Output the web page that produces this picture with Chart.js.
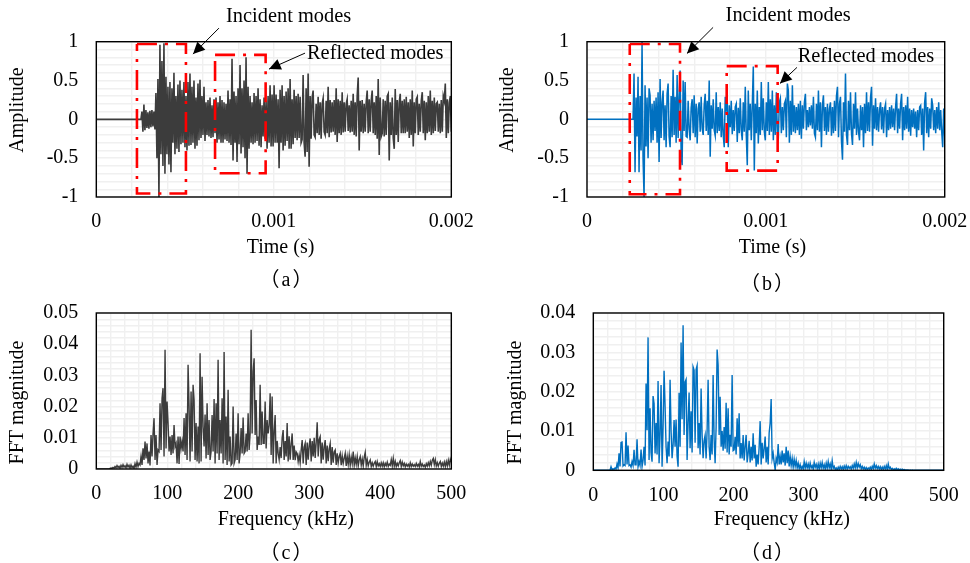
<!DOCTYPE html>
<html>
<head>
<meta charset="utf-8">
<script src="https://cdn.jsdelivr.net/npm/chart.js@4"></script>
<style>
  html, body { margin: 0; padding: 0; background: #fff; }
  body { position: relative; width: 970px; height: 563px; overflow: hidden; }
  canvas { position: absolute; }
  .legenda {
    position: absolute; width: 80px; text-align: center; color: #000; letter-spacing: 2px;
    font: 20px/24px 'Liberation Serif', 'Noto Sans CJK SC', serif;
  }
</style>
</head>
<body>
<canvas id="painelA" width="500" height="270" style="left:0;top:0"></canvas>
<canvas id="painelB" width="500" height="270" style="left:485px;top:0"></canvas>
<canvas id="painelC" width="500" height="293" style="left:0;top:270px"></canvas>
<canvas id="painelD" width="500" height="293" style="left:485px;top:270px"></canvas>
<div class="legenda" lang="zh-CN" style="left:247px;top:267px">（a）</div>
<div class="legenda" lang="zh-CN" style="left:728px;top:271px">（b）</div>
<div class="legenda" lang="zh-CN" style="left:247px;top:540px">（c）</div>
<div class="legenda" lang="zh-CN" style="left:728px;top:540px">（d）</div>
<script>
// rótulos dos eixos
const rotulosTempo = [0, 0.001, 0.002]
const rotulosAmplitude = [-1, -0.5, 0, 0.5, 1]
const rotulosFrequencia = [0, 100, 200, 300, 400, 500]
const rotulosFftC = [0, 0.01, 0.02, 0.03, 0.04, 0.05]
const rotulosFftD = [0, 0.01, 0.02, 0.03, 0.04]

// sinal (a): começa em 0.000257 s, amostras igualmente espaçadas
const amplitudeA = [
  .10,-.16,.19,-.14,.12,-.11,.09,-.12,.11,-.10,.12,-.09,.10,-.13,.34,-.50,
  .52,-1,.96,-.45,.75,-.60,.98,-.70,.55,-.45,.42,-.58,.48,-.68,.40,-.30,
  .60,-.45,.30,-.38,.45,-.42,.50,-.32,.38,-.30,.48,-.36,.30,-.40,.48,-.34,
  .59,-.33,.42,-.30,.50,-.38,.28,-.34,.46,-.27,.51,-.24,.30,-.20,.42,-.28,
  .22,-.20,.25,-.22,.28,-.24,.18,-.23,.26,-.18,.28,-.30,.22,-.26,.30,-.30,
  .25,-.30,.22,-.26,.20,-.28,.37,-.30,.26,-.33,.78,-.53,.36,-.30,.30,-.55,
  .40,-.32,.70,-.44,.40,-.36,.50,-.50,.80,-.70,.42,-.38,.30,-.30,.22,-.32,
  .34,-.30,.30,-.28,.40,-.34,.26,-.36,.18,-.22,.28,-.25,.24,-.38,.30,-.30,
  .44,-.35,.32,-.35,.44,-.30,.32,-.30,.26,-.63,.38,-.30,.44,-.40,.30,-.34,
  .36,-.28,.40,-.38,.52,-.38,.26,-.32,.38,-.24,.30,-.27,.33,-.24,.29,-.30,
  -.26,.57,-.30,-.48,.40,-.42,.59,-.61,.30,-.25,.28,.37,-.20,-.23,.20,-.18,
  .29,-.20,.22,-.25,.20,.27,-.16,-.20,.24,-.18,.42,-.23,.25,-.17,.22,-.16,
  .25,-.20,.40,-.29,.26,-.18,.24,-.20,.35,-.17,.22,-.16,.20,.26,-.15,.18,
  -.17,.24,-.16,.33,-.20,.22,-.22,.30,.54,-.40,.24,-.16,.25,-.18,.20,-.16,
  .22,.37,-.18,.26,-.16,.24,.37,-.18,.22,-.20,.30,-.25,.52,-.46,.28,-.22,
  -.18,.26,-.22,.24,-.20,.30,.33,-.53,.22,-.20,.28,-.24,-.38,.39,-.20,.25,
  -.29,.22,.33,-.18,.24,-.18,.26,-.18,.29,-.16,.22,-.24,.26,-.20,.37,-.35,
  .22,-.18,.26,.29,-.20,.20,-.16,.24,.35,-.18,.24,-.27,.22,-.18,.30,-.16,
  .37,-.20,.24,-.18,.28,-.15,.20,.22,-.16,.20,-.18,.25,-.16,.30,.24,.46,
  -.24,.26,-.18,.22,.30,-.16
]

// sinal (b): começa em 0.000263 s
const amplitudeB = [
  .59,-.68,.28,-.22,.55,-.68,.30,-.40,1,-.50,-1,.44,-.35,.28,-.50,.40,
  .31,-.30,.20,-.27,.24,-.15,.28,-.30,.35,-.55,.52,-.24,.22,.37,-.27,.18,
  -.36,.33,.46,-.22,-.36,.30,-.23,.64,-.20,.29,-.30,.57,-.24,.30,.63,-.46,
  -.59,.50,-.15,.48,-.22,-.23,.24,-.12,-.27,.15,.26,-.18,.31,-.23,.20,-.31,
  .14,.22,-.16,.29,-.12,-.20,.18,.33,-.15,.24,-.20,.50,-.48,.18,-.12,.26,
  -.14,-.21,.35,-.18,.16,-.15,.22,-.23,.14,-.20,-.36,.29,.14,.22,-.36,.18,
  -.10,.24,-.19,.12,-.15,.16,.20,-.29,.15,-.18,.27,-.14,-.27,.22,-.16,.42,
  -.20,-.59,.37,-.14,.20,-.27,.18,.68,-.66,.20,-.18,.37,-.31,.16,-.20,.48,
  -.14,.27,-.16,-.27,.22,-.15,.48,-.20,.26,-.16,.37,-.27,.18,-.20,.35,-.16,
  -.23,.22,.27,-.18,.16,-.14,.20,.24,-.23,.46,.37,-.30,.24,-.20,.44,-.16,
  .18,-.18,.16,-.14,.20,-.20,.24,-.25,.18,-.12,.22,.33,-.14,.12,-.10,.16,
  -.08,.18,-.12,.29,-.18,-.23,.20,-.14,.37,-.16,.22,-.36,.18,.31,-.15,.16,
  -.20,.20,-.16,.14,.22,-.21,.16,-.18,.24,-.15,.30,.42,-.23,.20,.29,-.28,
  -.52,.22,-.16,.59,-.20,-.33,.24,-.14,.35,-.18,-.33,.20,-.12,.35,-.20,.14,
  -.16,-.27,.18,-.14,.16,-.36,.20,-.18,.35,-.15,.22,-.16,.28,.42,-.34,.18,
  -.12,.27,-.14,.16,-.16,.12,.22,-.13,.16,-.18,.14,.20,-.23,.12,-.14,.16,
  -.12,.18,-.10,.14,-.14,.16,.33,-.18,.14,-.12,.20,.33,-.27,.16,-.14,.18,
  -.12,.29,-.16,.14,-.21,.12,-.10,.14,-.12,.10,-.23,.12,-.14,.16,.18,-.20,
  .14,-.40,.22,.35,-.18,.16,-.23,.14,-.12,.27,.18,-.14,.12,-.18,.16,-.12,
  .22,-.14,.12,-.16,-.36,.14,-.22
]

// espectro (c): de 19.3 kHz até 500 kHz
const fftC = [
  .0002,.0003,.0002,.0005,.0003,.0008,.0004,.0011,.0005,.0009,.0003,.0012,.0005,.0014,.0006,.0010,
  .0004,.0015,.0006,.0012,.0003,.0013,.0004,.0009,.0002,.0017,.0006,.0022,.0008,.0018,.0013,.0040,
  .0013,.0066,.0029,.0088,.0034,.0082,.0018,.0056,.0011,.0109,.0040,.0114,.0163,.0029,.0109,.0013,
  .0061,.0056,.0211,.0061,.0227,.0259,.0040,.0382,.0066,.0216,.0147,.0056,.0104,.0045,.0109,.0050,
  .0141,.0072,.0082,.0018,.0104,.0016,.0104,.0066,.0088,.0056,.0163,.0045,.0179,.0029,.0334,.0200,
  .0024,.0248,.0056,.0270,.0221,.0029,.0147,.0024,.0136,.0018,.0371,.0024,.0296,.0136,.0072,.0175,
  .0034,.0211,.0045,.0157,.0029,.0056,.0173,.0056,.0224,.0018,.0211,.0050,.0350,.0029,.0157,.0050,
  .0227,.0018,.0375,.0029,.0168,.0013,.0254,.0024,.0104,.0013,.0018,.0200,.0018,.0029,.0114,.0029,
  .0179,.0018,.0050,.0131,.0050,.0165,.0050,.0056,.0114,.0056,.0179,.0061,.0114,.0446,.0114,.0312,
  .0355,.0109,.0221,.0061,.0104,.0077,.0270,.0077,.0184,.0082,.0082,.0216,.0066,.0157,.0114,.0140,
  .0243,.0045,.0232,.0018,.0120,.0173,.0018,.0090,.0050,.0030,.0070,.0035,.0100,.0125,.0029,.0090,
  .0040,.0147,.0024,.0105,.0030,.0080,.0114,.0029,.0075,.0028,.0055,.0050,.0024,.0045,.0020,.0060,
  .0093,.0018,.0070,.0082,.0013,.0085,.0030,.0075,.0098,.0024,.0090,.0040,.0100,.0035,.0085,.0150,
  .0040,.0095,.0104,.0018,.0085,.0030,.0070,.0093,.0018,.0075,.0025,.0065,.0082,.0013,.0070,.0020,
  .0055,.0061,.0013,.0050,.0020,.0040,.0050,.0012,.0042,.0018,.0035,.0050,.0010,.0040,.0015,.0045,
  .0012,.0038,.0018,.0056,.0012,.0035,.0015,.0040,.0010,.0030,.0040,.0012,.0032,.0010,.0038,.0053,
  .0012,.0030,.0010,.0022,.0029,.0008,.0020,.0009,.0018,.0024,.0008,.0024,.0010,.0017,.0008,.0020,
  .0009,.0020,.0007,.0018,.0010,.0022,.0008,.0016,.0012,.0030,.0010,.0034,.0009,.0024,.0008,.0018,
  .0010,.0020,.0027,.0008,.0022,.0010,.0018,.0007,.0016,.0009,.0015,.0007,.0020,.0008,.0016,.0009,
  .0014,.0008,.0018,.0009,.0015,.0007,.0024,.0009,.0016,.0008,.0013,.0006,.0017,.0009,.0020,.0010,
  .0024,.0012,.0028,.0034,.0014,.0030,.0010,.0020,.0009,.0018,.0024,.0008,.0019,.0009,.0022,.0008,
  .0024,.0010,.0028,.0012,.0031,.0022
]

// espectro (d): de 25.3 kHz até 458 kHz
const fftD = [
  .0009,.0001,.0004,.0002,.0006,.0003,.0016,.0006,.0043,.0010,.0071,.0072,.0011,.0014,.0012,.0097,
  .0015,.0063,.0012,.0014,.0008,.0022,.0012,.0052,.0014,.0014,.0079,.0009,.0022,.0012,.0053,.0009,
  .0025,.0060,.0012,.0221,.0102,.0338,.0026,.0158,.0045,.0022,.0189,.0170,.0043,.0120,.0040,.0227,
  .0018,.0090,.0217,.0009,.0110,.0253,.0162,.0060,.0018,.0073,.0035,.0230,.0100,.0031,.0065,.0128,
  .0060,.0129,.0035,.0009,.0197,.0060,.0325,.0130,.0369,.0090,.0225,.0231,.0026,.0120,.0198,.0056,
  .0150,.0045,.0263,.0255,.0070,.0256,.0266,.0056,.0120,.0040,.0208,.0090,.0031,.0075,.0089,.0030,
  .0100,.0230,.0060,.0026,.0090,.0040,.0242,.0080,.0018,.0110,.0307,.0268,.0090,.0187,.0060,.0100,
  .0050,.0110,.0055,.0172,.0045,.0158,.0040,.0090,.0060,.0242,.0050,.0052,.0085,.0040,.0132,.0060,
  .0145,.0030,.0069,.0030,.0090,.0025,.0060,.0090,.0020,.0043,.0075,.0020,.0060,.0025,.0094,.0030,
  .0065,.0009,.0040,.0015,.0060,.0125,.0015,.0070,.0030,.0055,.0086,.0020,.0060,.0015,.0095,.0120,
  .0181,.0030,.0043,.0020,.0001,.0030,.0020,.0067,.0015,.0035,.0015,.0050,.0020,.0043,.0012,.0060,
  .0018,.0050,.0010,.0035,.0012,.0030,.0008,.0028,.0010,.0025,.0006,.0018,.0004,.0014,.0003,.0010,
  .0003,.0022,.0005,.0018,.0006,.0016,.0004,.0018,.0006,.0012,.0003,.0020,.0007,.0015,.0004,.0016,
  .0003,.0018,.0006,.0020,.0005,.0014,.0003,.0018,.0005,.0022,.0006,.0016,.0003,.0024,.0005,.0010,
  .0002,.0006,.0001,.0008,.0002,.0010,.0003,.0009,.0002,.0011,.0004,.0012,.0003,.0010,.0005,.0009,
  .0003,.0012,.0005,.0016,.0006,.0020,.0006,.0017,.0008,.0014,.0004,.0010,.0003,.0008,.0002,.0007,
  .0002,.0006,.0003,.0008,.0002,.0010,.0004,.0016,.0005,.0012,.0004,.0010,.0003,.0009,.0002,.0008,
  .0002,.0010,.0003,.0012,.0002,.0016,.0004,.0008,.0002,.0005,.0001,.0004,.0001,.0005,.0001,.0004,
  .0001,.0003,.0001,.0003,.0001,.0002,.0001,.0001,.0001,.0001,0,.0001,0,.0001,0,0
]

// caixas vermelhas tracejadas, em unidades dos eixos: [x0, x1, y0, y1]
const caixaIncidenteA = [0.000229, 0.000505, -0.955, 0.97]
const caixaRefletidaA = [0.000669, 0.000954, -0.695, 0.83]
const caixaIncidenteB = [0.000239, 0.00052, -0.965, 0.97]
const caixaRefletidaB = [0.000781, 0.001066, -0.66, 0.686]

// monta os pontos: trecho nulo inicial, sinal e trecho nulo final
const montarSerie = (inicio, fim, xMax, valores) => {
  const passo = (fim - inicio) / (valores.length - 1)
  const pontos = [{ x: 0, y: 0 }, { x: inicio - passo, y: 0 }]
  valores.forEach((y, i) => pontos.push({ x: inicio + i * passo, y }))
  if (fim < xMax) pontos.push({ x: xMax, y: 0 })
  return pontos
}

const montarCaixa = ([x0, x1, y0, y1]) => ({
  data: [{ x: x0, y: y1 }, { x: x1, y: y1 }, { x: x1, y: y0 }, { x: x0, y: y0 }, { x: x0, y: y1 }],
  showLine: true,
  pointRadius: 0,
  borderColor: '#ff0000',
  borderWidth: 2.6,
  borderDash: [20, 8, 3, 8],
  order: 0,
})

// moldura, setas, títulos e textos das anotações, posicionados pelas escalas
const pluginMoldura = {
  id: 'moldura',
  afterDatasetsDraw(chart, args, opcoes) {
    const { ctx, chartArea, scales } = chart
    const px = x => scales.x.getPixelForValue(x)
    const py = y => scales.y.getPixelForValue(y)
    ctx.save()
    ctx.strokeStyle = '#000'
    ctx.lineWidth = 1.4
    ctx.strokeRect(chartArea.left, chartArea.top, chartArea.width, chartArea.height)
    ;(opcoes.setas || []).forEach(([x0, y0, x1, y1]) => {
      const ax = px(x0)
      const ay = py(y0)
      const bx = px(x1)
      const by = py(y1)
      const ang = Math.atan2(by - ay, bx - ax)
      const tam = 13
      ctx.lineWidth = 1
      ctx.beginPath()
      ctx.moveTo(ax, ay)
      ctx.lineTo(bx, by)
      ctx.stroke()
      ctx.fillStyle = '#000'
      ctx.beginPath()
      ctx.moveTo(bx, by)
      ctx.lineTo(bx - tam * Math.cos(ang - 0.45), by - tam * Math.sin(ang - 0.45))
      ctx.lineTo(bx - tam * Math.cos(ang + 0.45), by - tam * Math.sin(ang + 0.45))
      ctx.closePath()
      ctx.fill()
    })
    ctx.fillStyle = '#000'
    ctx.textBaseline = 'middle'
    ctx.font = "20.4px 'Liberation Serif'"
    ;(opcoes.textos || []).forEach(([texto, x, y]) => {
      ctx.fillText(texto, px(x), py(y))
    })
    // títulos dos eixos, deslocados do centro como na figura
    ctx.font = "20px 'Liberation Serif'"
    ctx.textAlign = 'center'
    const [textoX, xx, xy] = opcoes.tituloX
    ctx.fillText(textoX, px(xx), py(xy))
    const [textoY, yx, yy] = opcoes.tituloY
    ctx.translate(px(yx), py(yy))
    ctx.rotate(-Math.PI / 2)
    ctx.fillText(textoY, 0, 0)
    ctx.restore()
  },
}

Chart.defaults.font.family = "'Liberation Serif', serif"
Chart.defaults.font.size = 20
Chart.defaults.color = '#000'

// cria um painel; cfg traz a série, os eixos e as medidas da área de plotagem
const criarPainel = (id, cfg) => {
  const rotuloDe = (lista, passo) => valor => {
    const achado = lista.find(r => Math.abs(r - valor) < passo / 10)
    return achado === undefined ? '' : String(achado)
  }
  return new Chart(document.getElementById(id).getContext('2d'), {
    type: 'scatter',
    data: {
      datasets: [
        ...cfg.caixas.map(montarCaixa),
        {
          data: cfg.pontos,
          showLine: true,
          pointRadius: 0,
          borderColor: cfg.cor,
          borderWidth: cfg.espessura,
          tension: 0,
          order: 1,
        },
      ],
    },
    plugins: [pluginMoldura],
    options: {
      responsive: false,
      animation: false,
      layout: { padding: cfg.margem },
      plugins: {
        legend: { display: false },
        tooltip: { enabled: false },
        moldura: { setas: cfg.setas, textos: cfg.textos, tituloX: cfg.tituloX, tituloY: cfg.tituloY },
      },
      scales: {
        x: {
          type: 'linear',
          min: 0,
          max: cfg.xMax,
          afterFit: escala => { escala.height = cfg.alturaX },
          grid: { color: '#f0f0f0', lineWidth: 1.4, drawTicks: false },
          border: { display: false },
          ticks: {
            stepSize: cfg.passoX,
            padding: 13,
            autoSkip: false,
            maxRotation: 0,
            callback: rotuloDe(cfg.rotulosX, cfg.passoX),
          },
        },
        y: {
          type: 'linear',
          min: cfg.yMin,
          max: cfg.yMax,
          afterFit: escala => { escala.width = cfg.larguraY },
          grid: { color: '#f0f0f0', lineWidth: 1.4, drawTicks: false },
          border: { display: false },
          ticks: {
            stepSize: cfg.passoY,
            padding: 18,
            autoSkip: false,
            callback: rotuloDe(cfg.rotulosY, cfg.passoY),
          },
        },
      },
    },
  })
}

criarPainel('painelA', {
  pontos: montarSerie(0.000257, 0.002, 0.002, amplitudeA),
  caixas: [caixaIncidenteA, caixaRefletidaA],
  setas: [[0.000691, 1.175, 0.000545, 0.84], [0.001176, 0.853, 0.000973, 0.647]],
  textos: [['Incident modes', 0.000731, 1.317], ['Reflected modes', 0.001187, 0.84]],
  cor: '#3c3c3c', espessura: 1.6,
  xMax: 0.002, passoX: 0.0002, rotulosX: rotulosTempo, tituloX: ['Time (s)', 0.001038, -1.652],
  yMin: -1, yMax: 1, passoY: 0.1, rotulosY: rotulosAmplitude, tituloY: ['Amplitude', -0.00044, 0.12],
  margem: { top: 41.7, right: 48.7, bottom: 10.3, left: 0 },
  larguraY: 96.3, alturaX: 62.7,
})

criarPainel('painelB', {
  pontos: montarSerie(0.000263, 0.002, 0.002, amplitudeB),
  caixas: [caixaIncidenteB, caixaRefletidaB],
  setas: [[0.000705, 1.184, 0.000559, 0.849], [0.001174, 0.669, 0.001079, 0.463]],
  textos: [['Incident modes', 0.000775, 1.332], ['Reflected modes', 0.001178, 0.811]],
  cor: '#0070c0', espessura: 1.5,
  xMax: 0.002, passoX: 0.0002, rotulosX: rotulosTempo, tituloX: ['Time (s)', 0.001037, -1.652],
  yMin: -1, yMax: 1, passoY: 0.1, rotulosY: rotulosAmplitude, tituloY: ['Amplitude', -0.000442, 0.12],
  margem: { top: 41.7, right: 40.3, bottom: 10.3, left: 0 },
  larguraY: 102, alturaX: 62.7,
})

criarPainel('painelC', {
  pontos: montarSerie(19.3, 500, 500, fftC),
  caixas: [],
  setas: [],
  textos: [],
  cor: '#3c3c3c', espessura: 1.4,
  xMax: 500, passoX: 20, rotulosX: rotulosFrequencia, tituloX: ['Frequency (kHz)', 267, -0.01635],
  yMin: 0, yMax: 0.05, passoY: 0.002, rotulosY: rotulosFftC, tituloY: ['FFT magnitude', -110.5, 0.0213],
  margem: { top: 43, right: 48.7, bottom: 31, left: 0 },
  larguraY: 96.3, alturaX: 63,
})

criarPainel('painelD', {
  pontos: montarSerie(25.3, 458, 500, fftD),
  caixas: [],
  setas: [],
  textos: [],
  cor: '#0070c0', espessura: 1.4,
  xMax: 500, passoX: 20, rotulosX: rotulosFrequencia, tituloX: ['Frequency (kHz)', 269, -0.01246],
  yMin: 0, yMax: 0.04, passoY: 0.002, rotulosY: rotulosFftD, tituloY: ['FFT magnitude', -111, 0.01724],
  margem: { top: 43, right: 41.3, bottom: 31.7, left: 0 },
  larguraY: 108.3, alturaX: 61,
})
</script>
</body>
</html>
